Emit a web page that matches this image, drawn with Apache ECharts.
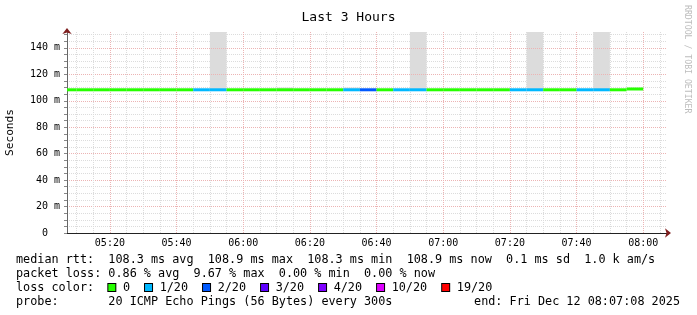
<!DOCTYPE html>
<html><head><meta charset="utf-8">
<script src="https://cdn.jsdelivr.net/npm/echarts@6/dist/echarts.min.js"></script>
<style>html,body{margin:0;padding:0;background:#fff}#c{width:697px;height:315px}</style>
</head><body><div id="c"></div>
<script>
// ---- data ----
const startTime = '05:07:08';
const endTime = '08:07:08';
const stepMinutes = 5;
const sampleTimes = ['05:10','05:15','05:20','05:25','05:30','05:35','05:40','05:45','05:50','05:55',
  '06:00','06:05','06:10','06:15','06:20','06:25','06:30','06:35','06:40','06:45',
  '06:50','06:55','07:00','07:05','07:10','07:15','07:20','07:25','07:30','07:35',
  '07:40','07:45','07:50','07:55','08:00'];
const medianRtt = [108.3,108.3,108.3,108.3,108.3,108.3,108.3,108.3,108.3,108.3,
  108.3,108.3,108.3,108.3,108.3,108.3,108.3,108.3,108.3,108.3,
  108.3,108.3,108.3,108.3,108.3,108.3,108.3,108.3,108.3,108.3,
  108.3,108.3,108.3,108.3,108.9];
const lossCount = [0,0,0,0,0,0,0,0,1,1,
  0,0,0,0,0,0,0,1,2,0,
  1,1,0,0,0,0,0,1,1,0,
  0,1,1,0,0];
const smokeTop = [null,null,null,null,null,null,null,null,null,200,
  null,null,null,110,null,null,null,110,null,null,
  null,200,null,null,null,null,null,null,200,null,
  null,null,200,null,null];
const lossLevels = [0,1,2,3,4,10,19];
const lossLabels = ['0','1/20','2/20','3/20','4/20','10/20','19/20'];
const lossColors = ['#26ff00','#00b8ff','#0059ff','#5e00ff','#7e00ff','#dd00ff','#ff0000'];
const xTickLabels = ['05:20','05:40','06:00','06:20','06:40','07:00','07:20','07:40','08:00'];
const yTickValues = [0,20,40,60,80,100,120,140];
const statLines = [
  'median rtt:  108.3 ms avg  108.9 ms max  108.3 ms min  108.9 ms now  0.1 ms sd  1.0 k am/s',
  'packet loss: 0.86 % avg  9.67 % max  0.00 % min  0.00 % now'
];
const probeText = 'probe:       20 ICMP Echo Pings (56 Bytes) every 300s';
const endText = 'end: Fri Dec 12 08:07:08 2025';
const titleText = 'Last 3 Hours';
const watermark = 'RRDTOOL / TOBI OETIKER';

// ---- helpers ----
function toMin(s){const p=s.split(':').map(Number);return p[0]*60+p[1]+(p[2]||0)/60;}
function fmtHM(v){const m=Math.round(v);const h=Math.floor(m/60),mm=m%60;return String(h).padStart(2,'0')+':'+String(mm).padStart(2,'0');}
function lossColor(n){let c=lossColors[0];for(let i=0;i<lossLevels.length;i++){if(n>=lossLevels[i])c=lossColors[i];}return c;}

const xMin = toMin(startTime), xMax = toMin(endTime);
const xGrid = []; for(let m=Math.ceil(xMin/5)*5; m<xMax; m+=5) xGrid.push(m);
const yMax = 152;
const yGrid = []; for(let v=0; v<=150; v+=5) yGrid.push(v);
const FONT = '"DejaVu Sans Mono", monospace';
const GRID_GRAY = '#dcdcdc', GRID_RED = '#ecb4b4';

const rttData = sampleTimes.map((t,i)=>[toMin(t), medianRtt[i], lossCount[i]]);
const smokeData = [];
sampleTimes.forEach((t,i)=>{ if(smokeTop[i]!=null) smokeData.push([toMin(t), medianRtt[i], smokeTop[i]]); });

const xColors = xGrid.map(m=> (Math.round(m)%20===0)?GRID_RED:GRID_GRAY);
const yColors = yGrid.slice(1).map(v=> (v%20===0)?GRID_RED:GRID_GRAY);

let lossRich = { sp:{width:7.6}, gap:{width:15} };
let lossStr = 'loss color:  ';
lossLabels.forEach((l,i)=>{
  lossRich['b'+i] = {width:7, height:7, backgroundColor:lossColors[i], borderColor:'#000', borderWidth:1};
  lossStr += (i>0?'{gap| }':'') + '{b'+i+'| }{sp| }' + l;
});

const chart = echarts.init(document.getElementById('c'), null, {renderer:'canvas'});
const textBase = {font:'11.8px '+FONT, fill:'#000', verticalAlign:'middle'};
chart.setOption({
  animation:false,
  backgroundColor:'#ffffff',
  title:{text:titleText,left:'center',top:6,textStyle:{fontFamily:FONT,fontSize:13,fontWeight:'normal',color:'#000'}},
  grid:{left:67, top:32, width:600, height:201, containLabel:false, outerBoundsMode:'none'},
  xAxis:[{
    type:'value', min:xMin, max:xMax, position:'bottom',
    axisLine:{show:true,onZero:false,lineStyle:{color:'#222',width:1}},
    axisTick:{show:false, customValues:xGrid},
    axisLabel:{customValues:xTickLabels.map(toMin), formatter:fmtHM, fontFamily:FONT, fontSize:10, color:'#000', margin:5},
    splitLine:{show:true, lineStyle:{color:xColors, type:[1,1], width:1}}
  },{
    type:'value', min:xMin, max:xMax, position:'bottom',
    axisLine:{show:true,onZero:false,symbol:['none','arrow'],symbolSize:[7,6],symbolOffset:[0,4],lineStyle:{color:'#7f1f1f',width:0}},
    axisTick:{show:false}, axisLabel:{show:false}, splitLine:{show:false}
  }],
  yAxis:[{
    type:'value', min:0, max:yMax, position:'left',
    name:'Seconds', nameLocation:'middle', nameRotate:90, nameGap:51,
    nameTextStyle:{fontFamily:FONT,fontSize:11.2,color:'#000'},
    axisLine:{show:true,onZero:false,lineStyle:{color:'#666',width:1}},
    axisTick:{show:true, length:3, customValues:yGrid, lineStyle:{color:'#888'}},
    axisLabel:{customValues:yTickValues, formatter:v=> v===0 ? '0\u00a0\u00a0' : (v+' m'), fontFamily:FONT, fontSize:10, color:'#000', margin:7},
    splitLine:{show:true, showMinLine:false, lineStyle:{color:yColors, type:[1,1], width:1}}
  },{
    type:'value', min:0, max:yMax, position:'left',
    axisLine:{show:true,onZero:false,symbol:['none','arrow'],symbolSize:[7,6],symbolOffset:[0,4],lineStyle:{color:'#7f1f1f',width:0}},
    axisTick:{show:false}, axisLabel:{show:false}, splitLine:{show:false}
  }],
  series:[{
    type:'custom', name:'smoke', xAxisIndex:0, yAxisIndex:0, z:-1, clip:true,
    data:smokeData, encode:{x:0,y:[1,2]},
    renderItem:(params,api)=>{
      const p1=api.coord([api.value(0)-stepMinutes, api.value(2)]);
      const p2=api.coord([api.value(0), api.value(1)]);
      return {type:'rect', shape:{x:p1[0],y:p1[1],width:p2[0]-p1[0],height:p2[1]-p1[1]}, style:{fill:'#dcdcdc'}};
    }
  },{
    type:'custom', name:'median rtt', xAxisIndex:0, yAxisIndex:0, clip:true,
    data:rttData, encode:{x:0,y:1},
    renderItem:(params,api)=>{
      const p1=api.coord([api.value(0)-stepMinutes, api.value(1)]);
      const p2=api.coord([api.value(0), api.value(1)]);
      return {type:'rect', shape:{x:p1[0],y:p1[1]-1.5,width:p2[0]-p1[0],height:3}, style:{fill:lossColor(api.value(2))}};
    }
  }],
  graphic:[
    {type:'text', x:16, y:259.5, style:Object.assign({text:statLines[0]},textBase)},
    {type:'text', x:16, y:273.5, style:Object.assign({text:statLines[1]},textBase)},
    {type:'text', x:16, y:287.5, style:Object.assign({text:lossStr, rich:lossRich},textBase)},
    {type:'text', x:16, y:301.5, style:Object.assign({text:probeText},textBase)},
    {type:'text', x:680, y:301.5, style:Object.assign({text:endText, align:'right'},textBase)},
    {type:'text', x:687.5, y:5, rotation:-Math.PI/2, style:{text:watermark, font:'8.2px '+FONT, fill:'#bdbdbd', verticalAlign:'middle', align:'left'}}
  ]
});
</script></body></html>
